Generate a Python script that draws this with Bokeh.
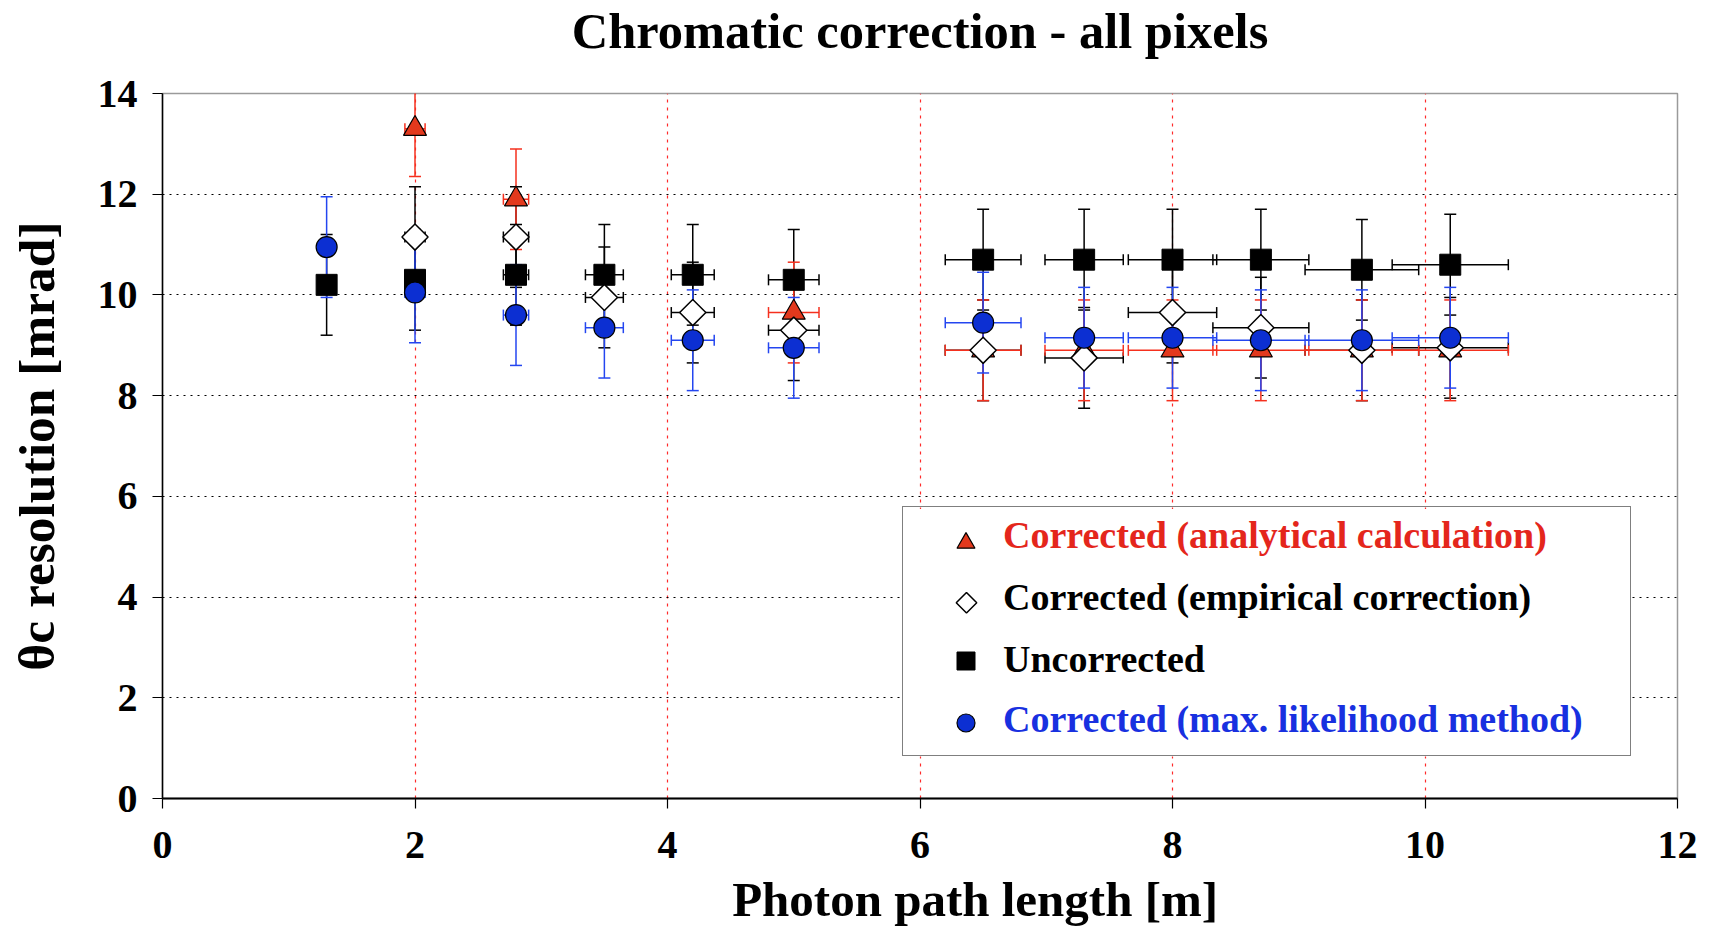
import math

from bokeh.embed import file_html
from bokeh.models import (ColumnDataSource, FixedTicker, Legend, LegendItem, Range1d,
                          Title)
from bokeh.plotting import figure
from bokeh.resources import INLINE

# ---- data -----------------------------------------------------------------
path_length = [1.3, 2.0, 2.8, 3.5, 4.2, 5.0, 6.5, 7.3, 8.0, 8.7, 9.5, 10.2]
path_length_err = [0.05, 0.08, 0.10, 0.15, 0.17, 0.20, 0.30, 0.31, 0.35, 0.38, 0.45, 0.46]

analytical = [None, 13.3, 11.9, None, None, 9.65, 8.9, 8.9, 8.9, 8.9, 8.9, 8.9]
empirical = [None, 11.15, 11.15, 9.95, 9.65, 9.3, 8.9, 8.75, 9.65, 9.35, 8.9, 8.95]
uncorrected = [10.2, 10.3, 10.4, 10.4, 10.4, 10.3, 10.7, 10.7, 10.7, 10.7, 10.5, 10.6]
max_likelihood = [10.95, 10.05, 9.6, 9.35, 9.1, 8.95, 9.45, 9.15, 9.15, 9.1, 9.1, 9.15]

analytical_err = [1.0, 0.95, 1.0, 1.0, 1.0, 1.0, 1.0, 1.0, 1.0, 1.0, 1.0, 1.0]
empirical_err = [1.0, 1.0, 1.0, 1.0, 1.0, 1.0, 1.0, 1.0, 1.0, 1.0, 1.0, 1.0]
uncorrected_err = [1.0, 1.0, 1.0, 1.0, 1.0, 1.0, 1.0, 1.0, 1.0, 1.0, 1.0, 1.0]
max_likelihood_err = [1.0, 1.0, 1.0, 1.0, 1.0, 1.0, 1.0, 1.0, 1.0, 1.0, 1.0, 1.0]

x_ticks = [0, 2, 4, 6, 8, 10, 12]
y_ticks = [0, 2, 4, 6, 8, 10, 12, 14]
x_grid_ticks = [2, 4, 6, 8, 10]
y_grid_ticks = [2, 4, 6, 8, 10, 12]

title_text = "Chromatic correction - all pixels"
x_label = "Photon path length [m]"
y_label = "θc resolution [mrad]"
labels = {
    "analytical": "Corrected (analytical calculation)",
    "empirical": "Corrected (empirical correction)",
    "uncorrected": "Uncorrected",
    "max_likelihood": "Corrected (max. likelihood method)",
}

# ---- layout & style ---------------------------------------------------------
X_RANGE = (0, 12)
Y_RANGE = (0, 14)
BORDER_L, BORDER_R, BORDER_T, BORDER_B = 162, 34, 93, 130
WIDTH, HEIGHT = 1711, 929
FRAME_W = WIDTH - BORDER_L - BORDER_R
FRAME_H = HEIGHT - BORDER_T - BORDER_B

# legend box in frame pixels (left, bottom, width, height), y measured upwards
LEGEND_BOX = (740, 42, 727, 248)

SERIF = "Liberation Serif"
RED_FILL = "#e3391d"
RED_LINE = "#f5301e"
RED_TEXT = "#e4261c"
BLUE_FILL = "#0c2fd2"
BLUE_LINE = "#2446f0"
BLUE_TEXT = "#1830e0"


def frame_to_data(px, py):
    """Map frame pixels (origin bottom-left) to data coordinates."""
    x = X_RANGE[0] + px / FRAME_W * (X_RANGE[1] - X_RANGE[0])
    y = Y_RANGE[0] + py / FRAME_H * (Y_RANGE[1] - Y_RANGE[0])
    return x, y


p = figure(
    width=WIDTH, height=HEIGHT, title=None,
    x_range=Range1d(*X_RANGE), y_range=Range1d(*Y_RANGE),
    output_backend="svg", toolbar_location=None,
    min_border_left=BORDER_L, min_border_right=BORDER_R,
    min_border_top=BORDER_T, min_border_bottom=BORDER_B,
    background_fill_color="white", border_fill_color="white",
)
p.outline_line_color = "#9a9a9a"
p.outline_line_width = 1.5

# title: a thin spacer next to the frame lifts the heading towards the top edge
p.add_layout(Title(text=" ", text_font_size="1px", standoff=30), "above")
p.add_layout(Title(
    text=title_text, align="center", vertical_align="top", standoff=0,
    text_font=SERIF, text_font_style="bold", text_font_size="50.5px",
    text_color="black",
), "above")

# axes
for ax in (p.xaxis[0], p.yaxis[0]):
    ax.major_label_text_font = SERIF
    ax.major_label_text_font_style = "bold"
    ax.major_label_text_font_size = "40px"
    ax.major_label_text_color = "black"
    ax.axis_label_text_font = SERIF
    ax.axis_label_text_font_style = "bold"
    ax.axis_label_text_color = "black"
    ax.axis_line_color = "black"
    ax.major_tick_line_color = "black"
    ax.major_tick_line_width = 1.2
    ax.major_tick_out = 10
    ax.major_tick_in = 0
    ax.minor_tick_line_color = None

p.xaxis.ticker = FixedTicker(ticks=x_ticks)
p.yaxis.ticker = FixedTicker(ticks=y_ticks)
# caption sits a little right of centre
p.xaxis.axis_label = "\u00a0" * 9 + x_label
p.yaxis.axis_label = y_label
p.xaxis.axis_label_text_font_size = "49px"
p.yaxis.axis_label_text_font_size = "51.5px"
p.xaxis.axis_line_width = 2.2
p.yaxis.axis_line_width = 1.5
p.xaxis.major_label_standoff = 23
p.xaxis.axis_label_standoff = 11
p.yaxis.major_label_standoff = 15
p.yaxis.axis_label_standoff = 30

# grid: dotted black horizontals, dashed red verticals
p.ygrid.ticker = FixedTicker(ticks=y_grid_ticks)
p.ygrid.grid_line_color = "black"
p.ygrid.grid_line_width = 1.2
p.ygrid.grid_line_dash = "2 5"
p.xgrid.ticker = FixedTicker(ticks=x_grid_ticks)
p.xgrid.grid_line_color = "#ff2a2a"
p.xgrid.grid_line_width = 1.2
p.xgrid.grid_line_dash = "3 5"

# white backing of the legend box, hiding the grid behind it
bl, bb, bw, bh = LEGEND_BOX
qx0, qy0 = frame_to_data(bl, bb)
qx1, qy1 = frame_to_data(bl + bw, bb + bh)
p.quad(left=[qx0], right=[qx1], bottom=[qy0], top=[qy1],
       fill_color="white", line_color=None)


def series_source(values, errs):
    rows = [
        (x, y, xe, ye)
        for x, y, xe, ye in zip(path_length, values, path_length_err, errs)
        if y is not None
    ]
    return ColumnDataSource(dict(
        x=[r[0] for r in rows],
        y=[r[1] for r in rows],
        x0=[r[0] - r[2] for r in rows],
        x1=[r[0] + r[2] for r in rows],
        y0=[r[1] - r[3] for r in rows],
        y1=[r[1] + r[3] for r in rows],
    ))


def error_bars(src, color):
    kw = dict(source=src, line_color=color, line_width=1.5)
    p.segment(x0="x", y0="y0", x1="x", y1="y1", **kw)
    p.segment(x0="x0", y0="y", x1="x1", y1="y", **kw)
    p.scatter(x="x", y="y0", marker="dash", size=12, **kw)
    p.scatter(x="x", y="y1", marker="dash", size=12, **kw)
    p.scatter(x="x0", y="y", marker="dash", angle=math.pi / 2, size=11, **kw)
    p.scatter(x="x1", y="y", marker="dash", angle=math.pi / 2, size=11, **kw)


src_an = series_source(analytical, analytical_err)
src_em = series_source(empirical, empirical_err)
src_un = series_source(uncorrected, uncorrected_err)
src_ml = series_source(max_likelihood, max_likelihood_err)

error_bars(src_un, "black")
error_bars(src_em, "black")
error_bars(src_an, RED_LINE)
error_bars(src_ml, BLUE_LINE)

DIAMOND = dict(marker="square", angle=math.pi / 4, fill_color="white",
               line_color="black", line_width=1.5)

r_an = p.scatter(x="x", y="y", source=src_an, marker="triangle", size=23,
                 fill_color=RED_FILL, line_color="black", line_width=1.2)
r_un = p.scatter(x="x", y="y", source=src_un, marker="square", size=21,
                 fill_color="black", line_color="black", line_width=1)
r_em = p.scatter(x="x", y="y", source=src_em, size=18.5, **DIAMOND)
r_ml = p.scatter(x="x", y="y", source=src_ml, marker="circle", size=21,
                 fill_color=BLUE_FILL, line_color="black", line_width=1.2)

# open-diamond legend key (a rotated square), placed in frame pixels
kx, ky = frame_to_data(804, 196)
p.scatter(x=[kx], y=[ky], size=14.5, **DIAMOND)

# ---- legend: framed box, a swatch and a coloured caption per row ------------
blank = p.scatter(x=[math.nan], y=[math.nan], marker="square", size=1,
                  fill_alpha=0, line_alpha=0)

p.add_layout(Legend(
    items=[LegendItem(label=" ", renderers=[blank])],
    location=(bl, bb), padding=0, margin=0, spacing=0,
    glyph_width=bw, glyph_height=bh, label_standoff=0, label_width=0,
    label_text_font_size="1px", label_text_alpha=0,
    border_line_color="black", border_line_width=1.5,
    background_fill_alpha=0,
))


def legend_swatch(renderer, vx, vy):
    p.add_layout(Legend(
        items=[LegendItem(label=" ", renderers=[renderer])],
        location=(vx, vy), padding=0, margin=0, spacing=0,
        glyph_width=45, glyph_height=45, label_height=45,
        label_standoff=0, label_width=0,
        label_text_font_size="1px", label_text_alpha=0,
        border_line_color=None, background_fill_alpha=0,
    ))


def legend_caption(label, color, vx, vy):
    p.add_layout(Legend(
        items=[LegendItem(label=label, renderers=[blank])],
        location=(vx, vy), padding=0, margin=0, spacing=0,
        glyph_width=1, glyph_height=45, label_height=45,
        label_standoff=0, label_width=0,
        label_text_font=SERIF, label_text_font_style="bold",
        label_text_font_size="38px", label_text_color=color,
        border_line_color=None, background_fill_alpha=0,
    ))


legend_swatch(r_an, 781, 233)
legend_swatch(r_un, 781, 115)
legend_swatch(r_ml, 781, 53)

legend_caption(labels["analytical"], RED_TEXT, 840, 241)
legend_caption(labels["empirical"], "black", 840, 179)
legend_caption(labels["uncorrected"], "black", 840, 117)
legend_caption(labels["max_likelihood"], BLUE_TEXT, 840, 57)

open("out.html", "w").write(file_html(p, INLINE))
